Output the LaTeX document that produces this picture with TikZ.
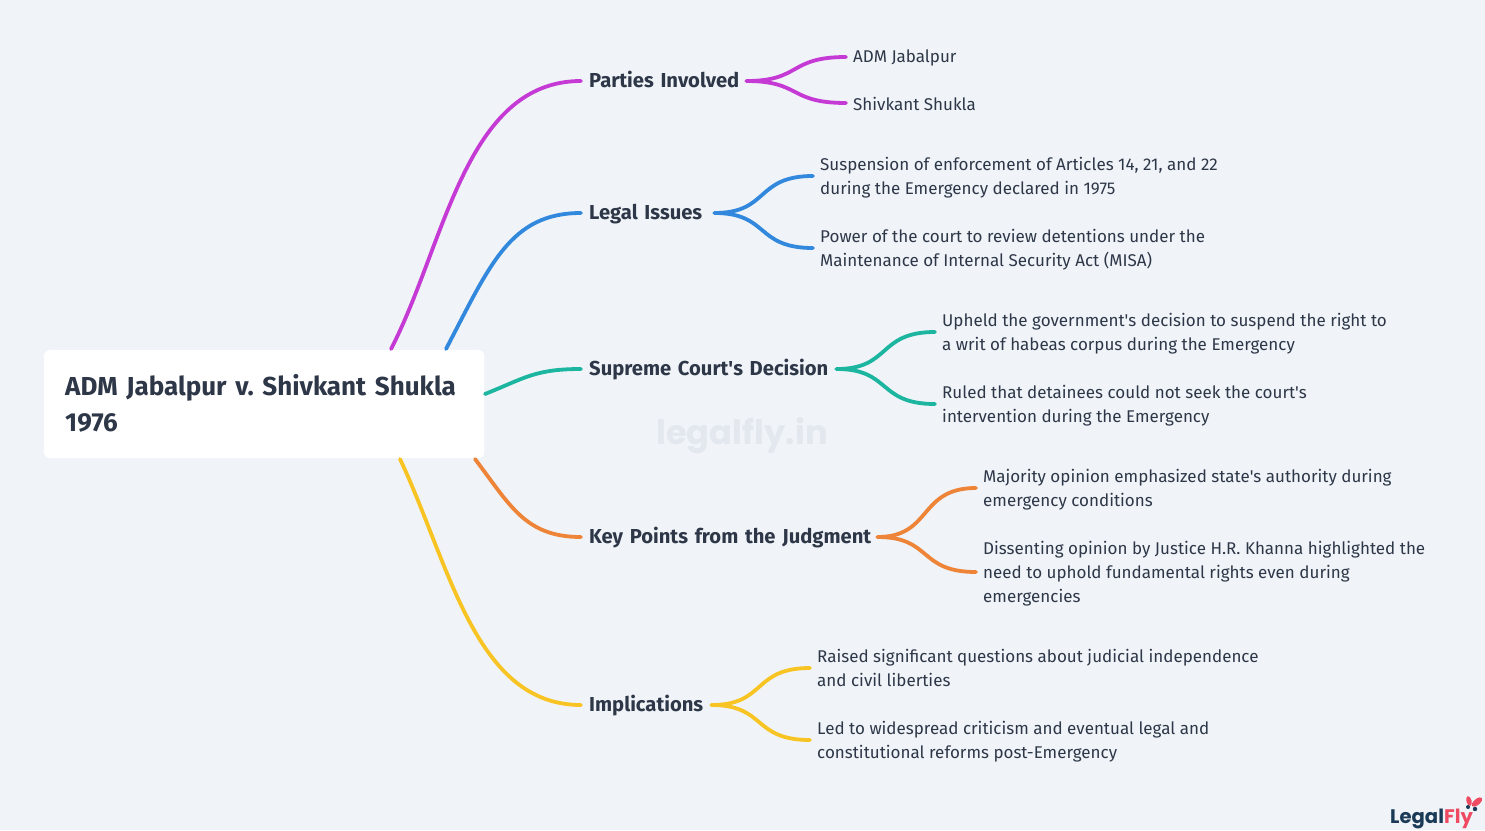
\documentclass[tikz,border=0pt]{standalone}
\usepackage{fontspec}
\setmainfont{Fira Sans}
\newfontfamily\logofont{Poppins}
\definecolor{bgc}{HTML}{F0F4F8}
\definecolor{ink}{HTML}{2D3748}
\definecolor{cpurple}{HTML}{C53AD4}
\definecolor{cblue}{HTML}{3188DC}
\definecolor{cteal}{HTML}{1CB5A0}
\definecolor{corange}{HTML}{ED8438}
\definecolor{cyellow}{HTML}{F8C424}
\definecolor{wm}{HTML}{E2E8EE}
\definecolor{logod}{HTML}{1B3A57}
\definecolor{logop}{HTML}{EE4B63}
\frenchspacing
\tikzset{
  x=1pt,y=-1pt,
  rootbox/.style={fill=white,rounded corners=5pt,minimum width=440pt,minimum height=108pt,anchor=north west,text width=398pt,inner xsep=21pt,inner ysep=0pt,align=left,text=ink,font=\fontsize{26}{36}\selectfont\bfseries,execute at end node={\rule[-3pt]{0pt}{3pt}}},
  textlines/.style={execute at begin node={\rule{0pt}{17pt}},execute at end node={\rule[-5pt]{0pt}{5pt}}},
  onelines/.style={execute at begin node={\rule{0pt}{15pt}},execute at end node={\rule[-5pt]{0pt}{5pt}}},
  branch/.style={textlines,anchor=west,inner xsep=8pt,inner ysep=0pt,text=ink,font=\fontsize{20.2}{24}\selectfont\bfseries,align=left},
  leaf/.style={textlines,anchor=west,inner xsep=7pt,inner ysep=0pt,text=ink,font=\fontsize{17}{24}\selectfont,align=left},
  leafone/.style={onelines,anchor=west,inner xsep=7pt,inner ysep=0pt,text=ink,font=\fontsize{17}{24}\selectfont,align=left},
  conn/.style={line width=3.8pt,line cap=round},
}
\begin{document}
\begin{tikzpicture}
\useasboundingbox (0,0) rectangle (1485,830);
\fill[bgc] (0,0) rectangle (1485,830);
\node[font=\logofont\fontsize{33.6}{40}\selectfont\bfseries,text=wm,inner sep=0pt] (mark) at (742,436) {legalfly.in};
\node[rootbox] (root) at (44,350) {ADM Jabalpur v. Shivkant Shukla\\1976};
\node[branch,text width=149pt] (b1) at (581,81) {\mbox{Parties Involved}};
\node[branch,text width=117pt] (b2) at (581,213) {\mbox{Legal Issues}};
\node[branch,text width=239pt] (b3) at (581,369) {\mbox{Supreme Court\textquotesingle s Decision}};
\node[branch,text width=280pt] (b4) at (581,537) {\mbox{Key Points from the Judgment}};
\node[branch,text width=114pt] (b5) at (581,705) {\mbox{Implications}};
\node[leafone] (l11) at (846,57) {ADM Jabalpur};
\node[leafone] (l12) at (846,105) {Shivkant Shukla};
\node[leaf] (l21) at (813,178) {Suspension of enforcement of Articles 14, 21, and 22\\during the Emergency declared in 1975};
\node[leaf] (l22) at (813,250) {Power of the court to review detentions under the\\Maintenance of Internal Security Act (MISA)};
\node[leaf] (l31) at (935,334) {Upheld the government\textquotesingle s decision to suspend the right to\\a writ of habeas corpus during the Emergency};
\node[leaf] (l32) at (935,406) {Ruled that detainees could not seek the court\textquotesingle s\\intervention during the Emergency};
\node[leaf] (l41) at (976,490) {Majority opinion emphasized state\textquotesingle s authority during\\emergency conditions};
\node[leaf] (l42) at (976,574) {Dissenting opinion by Justice H.R. Khanna highlighted the\\need to uphold fundamental rights even during\\emergencies};
\node[leaf] (l51) at (810,670) {Raised significant questions about judicial independence\\and civil liberties};
\node[leaf] (l52) at (810,742) {Led to widespread criticism and eventual legal and\\constitutional reforms post-Emergency};
\coordinate (r1) at (391,349);
\coordinate (r2) at (446,349);
\coordinate (r3) at (485,394);
\coordinate (r4) at (475,459);
\coordinate (r5) at (400,459);
\begin{scope}[conn]
\draw[cpurple] (r1) .. controls (445,245) and (465,81) .. (b1.west);
\draw[cblue] (r2) .. controls (490,265) and (510,213) .. (b2.west);
\draw[cteal] (r3) .. controls (525,378) and (535,369) .. (b3.west);
\draw[corange] (r4) .. controls (510,505) and (525,537) .. (b4.west);
\draw[cyellow] (r5) .. controls (450,565) and (475,705) .. (b5.west);
\draw[cpurple] (b1.east) .. controls +(55,0) and +(-58,0) .. (l11.west);
\draw[cpurple] (b1.east) .. controls +(55,0) and +(-58,0) .. ([yshift=2pt]l12.west);
\draw[cblue] (b2.east) .. controls +(55,0) and +(-58,0) .. ([yshift=2pt]l21.west);
\draw[cblue] (b2.east) .. controls +(55,0) and +(-58,0) .. ([yshift=2pt]l22.west);
\draw[cteal] (b3.east) .. controls +(55,0) and +(-58,0) .. ([yshift=2pt]l31.west);
\draw[cteal] (b3.east) .. controls +(55,0) and +(-58,0) .. ([yshift=2pt]l32.west);
\draw[corange] (b4.east) .. controls +(55,0) and +(-58,0) .. ([yshift=2pt]l41.west);
\draw[corange] (b4.east) .. controls +(55,0) and +(-58,0) .. ([yshift=2pt]l42.west);
\draw[cyellow] (b5.east) .. controls +(55,0) and +(-58,0) .. ([yshift=2pt]l51.west);
\draw[cyellow] (b5.east) .. controls +(55,0) and +(-58,0) .. ([yshift=2pt]l52.west);
\end{scope}
\node[anchor=base west,inner sep=0pt,font=\logofont\fontsize{19.6}{22}\selectfont\bfseries] (logo) at (1390,823) {\textcolor{logod}{Legal}\textcolor{logop}{Fly}};
\fill[logop,rotate around={15:(1469,801)}] (1469,801) ellipse (2.6pt and 5pt);
\fill[logop,rotate around={-50:(1477,802)}] (1477,802) ellipse (3pt and 6.5pt);
\fill[logod] (1468,807) circle (2pt);
\fill[logod] (1475,809) circle (2.2pt);
\end{tikzpicture}
\end{document}
